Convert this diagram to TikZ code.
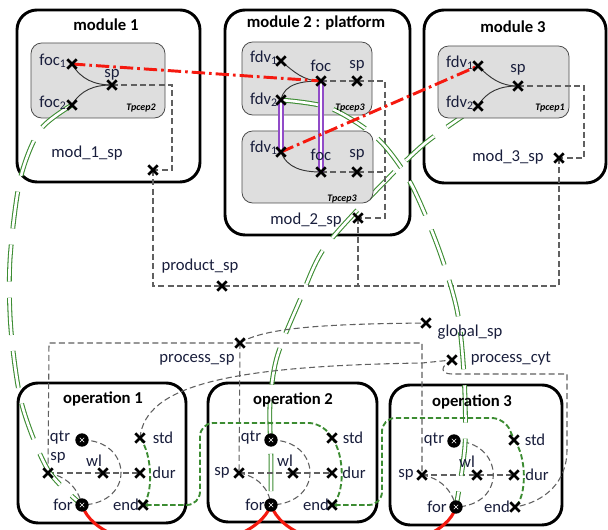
\documentclass[tikz,border=0pt]{standalone}
\usepackage{fontspec}
\setmainfont{Carlito}
\usetikzlibrary{calc,shapes.misc,arrows.meta}

\definecolor{linkgreen}{RGB}{60,140,50}
\definecolor{tiepurple}{RGB}{145,75,200}
\definecolor{syncred}{RGB}{245,25,15}
\definecolor{inkblue}{RGB}{25,30,60}
\definecolor{boxgray}{RGB}{222,222,222}

\tikzset{
  modbox/.style={draw=black, line width=2.2pt, rounded corners=15pt, fill=white},
  tpbox/.style={draw=gray!60!black, line width=0.6pt, rounded corners=8pt, fill=boxgray},
  xpt/.style={cross out, draw=black, line width=2pt, minimum size=5pt, inner sep=0pt},
  dial/.style={circle, fill=black, minimum size=10pt, inner sep=0pt,
    path picture={\draw[white, line width=0.5pt]
      ($(path picture bounding box.center)+(-1.6pt,-1.6pt)$) -- ++(3.2pt,3.2pt)
      ($(path picture bounding box.center)+(-1.6pt,1.6pt)$) -- ++(3.2pt,-3.2pt);}},
  lbl/.style={font=\fontsize{12.5}{14}\selectfont, text=inkblue, inner sep=0pt},
  ttl/.style={font=\fontsize{12.5}{14}\selectfont\bfseries, inner sep=0pt},
  tp/.style={font=\fontsize{7.5}{8}\selectfont\bfseries\itshape, inner sep=0pt},
  ctrl/.style={draw=gray!75!black, line width=0.8pt, dash pattern=on 4.5pt off 2.5pt},
  link/.style={draw=black!80, line width=0.7pt},
  gtie/.style={draw=linkgreen, double=white, double distance=2pt, line width=0.8pt, dash pattern=on 28pt off 12pt},
  ptie/.style={draw=tiepurple, double=white, double distance=2.2pt, line width=1.1pt},
  seq/.style={draw=linkgreen, line width=1.4pt, dash pattern=on 4pt off 2pt},
  sync/.style={draw=syncred, line width=2.2pt, dash pattern=on 10pt off 3pt on 2pt off 3pt},
  flow/.style={draw=syncred, line width=2.3pt}
}

\begin{document}
\begin{tikzpicture}[x=0.75pt, y=-0.75pt]
  \useasboundingbox (0,0) rectangle (608,530);

  % Points of module 1
  \coordinate (m1foc1) at (72,64);
  \coordinate (m1sp) at (112,85);
  \coordinate (m1foc2) at (72,105);
  \coordinate (m1msp) at (153,170);
  % Points of module 2 (two cep blocks)
  \coordinate (m2fdv1) at (281,61);
  \coordinate (m2foc) at (321,81);
  \coordinate (m2sp) at (357,81);
  \coordinate (m2fdv2) at (281,100);
  \coordinate (m2fdv1b) at (281,152);
  \coordinate (m2focb) at (321,172);
  \coordinate (m2spb) at (357,172);
  \coordinate (m2msp) at (358,218);
  % Points of module 3
  \coordinate (m3fdv1) at (478,66);
  \coordinate (m3sp) at (518,86);
  \coordinate (m3fdv2) at (478,106);
  \coordinate (m3msp) at (559,158);
  % Global points
  \coordinate (prodsp) at (222,286);
  \coordinate (procsp) at (240,343);
  \coordinate (globsp) at (426,323);
  \coordinate (proccyt) at (452,360);
  % Points of operation 1
  \coordinate (o1qtr) at (82,440);
  \coordinate (o1std) at (140,438);
  \coordinate (o1sp) at (48,473);
  \coordinate (o1wl) at (103,473);
  \coordinate (o1dur) at (140,473);
  \coordinate (o1for) at (82,505);
  \coordinate (o1end) at (143,505);
  % Points of operation 2
  \coordinate (o2qtr) at (271,440);
  \coordinate (o2std) at (332,438);
  \coordinate (o2sp) at (239,473);
  \coordinate (o2wl) at (293,473);
  \coordinate (o2dur) at (332,473);
  \coordinate (o2for) at (271,505);
  \coordinate (o2end) at (332,505);
  % Points of operation 3
  \coordinate (o3qtr) at (454,441);
  \coordinate (o3std) at (514,440);
  \coordinate (o3sp) at (422,475);
  \coordinate (o3wl) at (477,475);
  \coordinate (o3dur) at (514,475);
  \coordinate (o3for) at (456,507);
  \coordinate (o3end) at (515,507);

  % Module and operation frames
  \draw[modbox] (17,10) rectangle (200,182);
  \draw[modbox] (225,10) rectangle (410,235);
  \draw[modbox] (424,10) rectangle (606,183);
  \draw[modbox] (18,383) rectangle (186,523);
  \draw[modbox] (208,383) rectangle (377,522);
  \draw[modbox] (390,385) rectangle (562,525);

  % this tie starts under the cep block of module 3
  \draw[gtie] plot[smooth] coordinates {(m3fdv2) (423,145) (367,200) (323,250) (300,300) (277,357) (270,405) (271,460) (o2for)};

  % Cep blocks
  \draw[tpbox] (31,43) rectangle (165,118);
  \draw[tpbox] (242,42) rectangle (372,115);
  \draw[tpbox] (242,131) rectangle (373,203);
  \draw[tpbox] (438,46) rectangle (569,118);

  % Dashed sp chains
  \begin{scope}
    \draw[ctrl] (m1sp) -- (172,85) -- (172,170) -- (m1msp);
    \draw[ctrl] (m2foc) -- (m2sp) -- (385,81) -- (385,218) -- (m2msp);
    \draw[ctrl] (m2focb) -- (m2spb) -- (385,172);
    \draw[ctrl] (m3sp) -- (584,86) -- (584,158) -- (m3msp);
    \draw[ctrl] (m1msp) -- (153,286) -- (559,286) -- (m3msp);
    \draw[ctrl] (m2msp) -- (358,286);
    \draw[ctrl] (o1sp) -- (49,343) -- (procsp) -- (422,343) -- (o3sp);
    \draw[ctrl] (procsp) -- (o2sp);
    \draw[ctrl] (procsp) .. controls (265,327) and (330,324) .. (globsp);
    \draw[ctrl] (o1std) .. controls (145,385) and (230,366) .. (422,363) -- (proccyt);
    \draw[ctrl] (proccyt) .. controls (440,366) and (440,374) .. (452,374) -- (567,374) -- (567,450) .. controls (567,482) and (545,502) .. (o3end);
  \end{scope}

  % Inside the operations
  \begin{scope}
    \draw[ctrl] (o1sp) -- (o1wl) -- (o1dur);
    \draw[ctrl] (o1qtr) .. controls (132,440) and (136,503) .. (o1for);
    \draw[ctrl] (o1sp) .. controls (66,476) and (78,488) .. (o1for);
    \draw[ctrl] (o2sp) -- (o2wl) -- (o2dur);
    \draw[ctrl] (o2qtr) .. controls (321,440) and (325,503) .. (o2for);
    \draw[ctrl] (o2sp) .. controls (257,476) and (269,488) .. (o2for);
    \draw[ctrl] (o3sp) -- (o3wl) -- (o3dur);
    \draw[ctrl] (o3qtr) .. controls (504,441) and (508,505) .. (o3for);
    \draw[ctrl] (o3sp) .. controls (440,478) and (452,490) .. (o3for);
  \end{scope}

  % Event links inside the cep blocks
  \draw[link] (m1foc1) to[out=-60, in=180] (m1sp);
  \draw[link] (m1foc2) to[out=60, in=180] (m1sp);
  \draw[link] (m2fdv1) to[out=-40, in=180] (m2foc);
  \draw[link] (m2fdv2) to[out=80, in=180] (m2foc);
  \draw[link] (m2fdv1b) to[out=-70, in=180] (m2focb);
  \draw[link] (m3fdv1) to[out=-45, in=180] (m3sp);
  \draw[link] (m3fdv2) to[out=60, in=180] (m3sp);

  % Purple ties
  \draw[ptie] (m2fdv2) -- (m2fdv1b);
  \draw[ptie] (m2foc) -- (m2focb);

  % Green ties
  \draw[gtie] plot[smooth] coordinates {(m1foc2) (40,130) (20,180) (10,260) (11,330) (22,405) (48,470) (o1for)};
  \draw[gtie] plot[smooth] coordinates {(m2fdv2) (330,108) (377,138) (410,182) (438,247) (457,310) (464,375) (465,445) (o3for)};

  % Sequence between operations
  \draw[seq] (o1std) .. controls (153,455) and (153,495) .. (o1end);
  \draw[seq, rounded corners=10pt, {Stealth[length=4pt]}-] (o1end) -- (200,505) -- (200,423) -- (322,423) -- (o2std);
  \draw[seq] (o2std) .. controls (345,455) and (345,495) .. (o2end);
  \draw[seq, rounded corners=10pt, {Stealth[length=4pt]}-] (o2end) -- (382,505) -- (382,418) -- (505,418) -- (o3std);
  \draw[seq] (o3std) .. controls (527,456) and (527,497) .. (o3end);

  % Red links
  \draw[sync] (m1foc1) -- (m2foc);
  \draw[sync] (m2fdv1b) -- (m3fdv1);
  \draw[flow] (o1for) .. controls (100,560) and (250,560) .. (o2for);
  \draw[flow] (o2for) .. controls (290,560) and (440,560) .. (o3for);

  % Markers
  \node[xpt] (m1foc1x) at (m1foc1) {};
  \node[xpt] (m1spx) at (m1sp) {};
  \node[xpt] (m1foc2x) at (m1foc2) {};
  \node[xpt] (m1mspx) at (m1msp) {};
  \node[xpt] (m2fdv1x) at (m2fdv1) {};
  \node[xpt] (m2focx) at (m2foc) {};
  \node[xpt] (m2spx) at (m2sp) {};
  \node[xpt] (m2fdv2x) at (m2fdv2) {};
  \node[xpt] (m2fdv1bx) at (m2fdv1b) {};
  \node[xpt] (m2focbx) at (m2focb) {};
  \node[xpt] (m2spbx) at (m2spb) {};
  \node[xpt] (m2mspx) at (m2msp) {};
  \node[xpt] (m3fdv1x) at (m3fdv1) {};
  \node[xpt] (m3spx) at (m3sp) {};
  \node[xpt] (m3fdv2x) at (m3fdv2) {};
  \node[xpt] (m3mspx) at (m3msp) {};
  \node[xpt] (prodspx) at (prodsp) {};
  \node[xpt] (procspx) at (procsp) {};
  \node[xpt] (globspx) at (globsp) {};
  \node[xpt] (proccytx) at (proccyt) {};
  \node[dial] (o1qtrx) at (o1qtr) {};
  \node[xpt] (o1stdx) at (o1std) {};
  \node[xpt] (o1spx) at (o1sp) {};
  \node[xpt] (o1wlx) at (o1wl) {};
  \node[xpt] (o1durx) at (o1dur) {};
  \node[dial] (o1forx) at (o1for) {};
  \node[xpt] (o1endx) at (o1end) {};
  \node[dial] (o2qtrx) at (o2qtr) {};
  \node[xpt] (o2stdx) at (o2std) {};
  \node[xpt] (o2spx) at (o2sp) {};
  \node[xpt] (o2wlx) at (o2wl) {};
  \node[xpt] (o2durx) at (o2dur) {};
  \node[dial] (o2forx) at (o2for) {};
  \node[xpt] (o2endx) at (o2end) {};
  \node[dial] (o3qtrx) at (o3qtr) {};
  \node[xpt] (o3stdx) at (o3std) {};
  \node[xpt] (o3spx) at (o3sp) {};
  \node[xpt] (o3wlx) at (o3wl) {};
  \node[xpt] (o3durx) at (o3dur) {};
  \node[dial] (o3forx) at (o3for) {};
  \node[xpt] (o3endx) at (o3end) {};

  % Titles
  \node[ttl] (m1title) at (106,25) {module 1};
  \node[ttl] (m2title) at (316,23) {module 2 : platform};
  \node[ttl] (m3title) at (513,27) {module 3};
  \node[ttl] (o1title) at (103,399) {operation 1};
  \node[ttl] (o2title) at (293,400) {operation 2};
  \node[ttl] (o3title) at (472,402) {operation 3};

  % Cep names
  \node[tp] (m1tp) at (141,108) {Tpcep2};
  \node[tp] (m2tp) at (350,108) {Tpcep3};
  \node[tp] (m2tpb) at (342,199) {Tpcep3};
  \node[tp] (m3tp) at (550,108) {Tpcep1};

  % Labels of the modules
  \node[lbl] (m1foc1l) at (53,61) {foc\textsubscript{1}};
  \node[lbl] (m1spl) at (112,75) {sp};
  \node[lbl] (m1foc2l) at (53,103) {foc\textsubscript{2}};
  \node[lbl] (m1mspl) at (87,153) {mod\_1\_sp};
  \node[lbl] (m2fdv1l) at (264,58) {fdv\textsubscript{1}};
  \node[lbl] (m2focl) at (321,66) {foc};
  \node[lbl] (m2spl) at (357,66) {sp};
  \node[lbl] (m2fdv2l) at (264,100) {fdv\textsubscript{2}};
  \node[lbl] (m2fdv1bl) at (264,148) {fdv\textsubscript{1}};
  \node[lbl] (m2focbl) at (321,155) {foc};
  \node[lbl] (m2spbl) at (357,155) {sp};
  \node[lbl] (m2mspl) at (306,220) {mod\_2\_sp};
  \node[lbl] (m3fdv1l) at (460,63) {fdv\textsubscript{1}};
  \node[lbl] (m3spl) at (518,70) {sp};
  \node[lbl] (m3fdv2l) at (460,103) {fdv\textsubscript{2}};
  \node[lbl] (m3mspl) at (508,157) {mod\_3\_sp};

  % Global labels
  \node[lbl] (prodspl) at (200,266) {product\_sp};
  \node[lbl] (procspl) at (197,360) {process\_sp};
  \node[lbl] (globspl) at (470,332) {global\_sp};
  \node[lbl] (proccytl) at (511,359) {process\_cyt};

  % Labels of the operations
  \node[lbl] (o1qtrl) at (60,438) {qtr};
  \node[lbl] (o1spl) at (58,458) {sp};
  \node[lbl] (o1wll) at (94,461) {wl};
  \node[lbl] (o1stdl) at (163,438) {std};
  \node[lbl] (o1durl) at (164,473) {dur};
  \node[lbl] (o1forl) at (63,505) {for};
  \node[lbl] (o1endl) at (126,505) {end};
  \node[lbl] (o2qtrl) at (251,438) {qtr};
  \node[lbl] (o2spl) at (222,473) {sp};
  \node[lbl] (o2wll) at (285,461) {wl};
  \node[lbl] (o2stdl) at (353,438) {std};
  \node[lbl] (o2durl) at (354,473) {dur};
  \node[lbl] (o2forl) at (255,505) {for};
  \node[lbl] (o2endl) at (316,505) {end};
  \node[lbl] (o3qtrl) at (434,440) {qtr};
  \node[lbl] (o3spl) at (406,475) {sp};
  \node[lbl] (o3wll) at (467,462) {wl};
  \node[lbl] (o3stdl) at (535,440) {std};
  \node[lbl] (o3durl) at (537,475) {dur};
  \node[lbl] (o3forl) at (437,507) {for};
  \node[lbl] (o3endl) at (497,507) {end};
\end{tikzpicture}
\end{document}
